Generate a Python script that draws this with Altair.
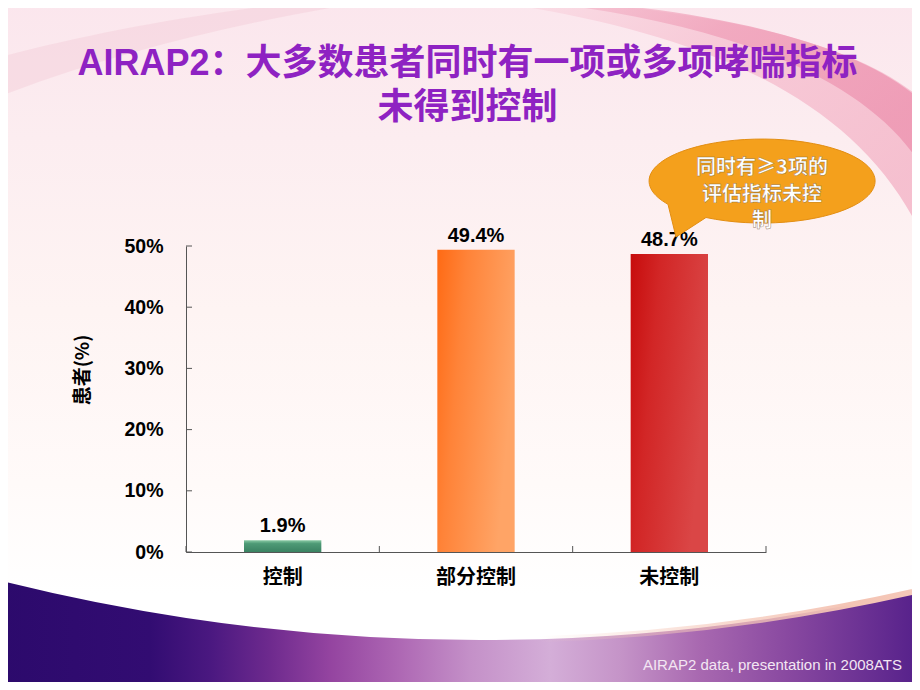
import math
import altair as alt
import pandas as pd

# ---------------- data ----------------
categories = ["控制", "部分控制", "未控制"]
values = [1.9, 49.4, 48.7]
value_labels = ["1.9%", "49.4%", "48.7%"]
y_ticks = [0, 10, 20, 30, 40, 50]
title_lines = ["AIRAP2：大多数患者同时有一项或多项哮喘指标", "未得到控制"]
y_title = "患者(%)"
callout_lines = ["同时有≥3项的", "评估指标未控", "制"]
footnote = "AIRAP2 data, presentation in 2008ATS"

# ---------------- layout ----------------
W, H = 580, 306          # plot area
OX, OY = 186, 246        # plot origin on the page
STEP = W / len(categories)
LAT = "Liberation Sans, Noto Sans CJK SC"
CJK = "Noto Sans CJK SC, Liberation Sans"


def lg(stops, x1=0, y1=0, x2=1, y2=0):
    return alt.LinearGradient(
        gradient="linear", x1=x1, y1=y1, x2=x2, y2=y2,
        stops=[alt.GradientStop(offset=o, color=c) for o, c in stops])


one = pd.DataFrame({"k": [0]})
bars_df = pd.DataFrame({"cat": categories, "val": values, "label": value_labels})
ticks_df = pd.DataFrame({"val": y_ticks})

x_enc = alt.X(
    "cat:N", sort=categories,
    scale=alt.Scale(paddingInner=0.6, paddingOuter=0.3),
    axis=alt.Axis(title=None, labelAngle=0, ticks=False, tickSize=0,
                  labelPadding=15, labelFont=CJK, labelFontSize=20,
                  labelFontWeight="bold", labelColor="#000000",
                  domainColor="#555555", domainWidth=1, zindex=1))
y_enc = alt.Y(
    "val:Q", scale=alt.Scale(domain=[0, 50], nice=False),
    axis=alt.Axis(title=None, values=y_ticks, labelExpr="datum.value + '%'",
                  ticks=False, tickSize=0, labelPadding=23, grid=False,
                  labelFont=LAT, labelFontSize=19.5, labelFontWeight="bold",
                  labelColor="#000000", domainColor="#555555",
                  domainWidth=1, zindex=1))


def page_shape(path, **kw):
    """decorative path drawn in page pixel coordinates"""
    return alt.Chart(one).mark_point(shape=path, size=4, filled=True, **kw).encode(
        x=alt.value(-OX), y=alt.value(-OY))


# background
bg = alt.Chart(one).mark_rect(
    fill=lg([(0, "#FBE6ED"), (0.2, "#FCEDF0"), (0.45, "#FEF4F3"),
             (0.7, "#FFFAF9"), (0.86, "#FFFFFF"), (1, "#FFFFFF")],
            x1=0, y1=0, x2=0, y2=1)).encode(
    x=alt.value(-OX), x2=alt.value(920 - OX),
    y=alt.value(-OY), y2=alt.value(690 - OY))

left_band = page_shape(
    "M -10 60 C 90 32 230 6 400 -8 L 430 -8 C 290 12 140 42 -10 100 Z",
    fill="#F3C9D5", opacity=0.4)

pink_wide = page_shape(
    "M 430 -4 C 650 -1 860 30 932 110 L 932 260 C 880 118 740 42 520 6 Z",
    fill=lg([(0, "#FBE3EA"), (0.5, "#F6C0D0"), (1, "#F3B0C4")], 0, 0, 1, 0.6),
    opacity=0.75)
pink_core = page_shape(
    "M 470 -4 C 660 0 862 32 932 112 L 932 185 C 885 86 745 26 540 2 Z",
    fill=lg([(0, "#F7CCD9"), (0.5, "#EF9CB6"), (1, "#EC8EAC")], 0, 0, 1, 0.5),
    opacity=0.7)

# bottom purple wave (outside a large circle)
CX, CY, R = 480, -1326, 1966


def fx(X):
    return (X + 140.6) / 1241.2


purple = alt.Chart(one).mark_arc(
    theta=math.pi - 0.3, theta2=math.pi + 0.3, radius=R, radius2=2100,
    fill=lg([(0, "#2C0A6C"), (fx(0), "#2C0A6C"), (fx(150), "#320C72"),
             (fx(210), "#4A1880"), (fx(270), "#6E2A8E"), (fx(330), "#9444A0"),
             (fx(400), "#AE68B4"), (fx(470), "#C490C8"), (fx(550), "#D4AED8"),
             (fx(620), "#C594C8"), (fx(700), "#A868B0"), (fx(790), "#8848A0"),
             (fx(920), "#55208A"), (1, "#55208A")])).encode(
    x=alt.value(CX - OX), y=alt.value(CY - OY))

highlight = alt.Chart(one).mark_arc(
    theta=math.pi - 0.26, theta2=math.pi - 0.03, radius=R - 3, radius2=R + 3,
    fill=lg([(0, "rgba(246,205,190,0)"), (0.36, "rgba(245,200,185,0.6)"),
             (0.7, "#F4C4B4"), (1, "#F6CDBE")])).encode(
    x=alt.value(CX - OX), y=alt.value(CY - OY))

# bars
bar_fills = [
    lg([(0, "#86C8A2"), (0.28, "#4E9A76"), (1, "#3A8262")], 0, 0, 0, 1),
    lg([(0, "#FF6A14"), (0.35, "#FF8338"), (1, "#FFA466")], 0, 0, 1, 0.35),
    lg([(0, "#C70C0C"), (0.35, "#D22626"), (1, "#DA4646")], 0, 0, 1, 0.35),
]
bars = [
    alt.Chart(bars_df).transform_filter(alt.datum.cat == c)
    .mark_bar(fill=f).encode(x=x_enc, y=y_enc)
    for c, f in zip(categories, bar_fills)
]

bar_text = alt.Chart(bars_df).mark_text(
    baseline="bottom", dy=-4, font=LAT, fontSize=20, fontWeight="bold",
    color="#000000").encode(x=x_enc, y=y_enc, text="label:N")

y_tick_marks = alt.Chart(ticks_df).mark_rule(color="#555555", strokeWidth=1).encode(
    y=y_enc, x=alt.value(0), x2=alt.value(6))
x_tick_marks = alt.Chart(bars_df).mark_rule(
    color="#555555", strokeWidth=1, xOffset=-STEP / 2).encode(
    x=x_enc, y=alt.value(H - 6), y2=alt.value(H))
x_tick_end = alt.Chart(bars_df).transform_filter(
    alt.datum.cat == categories[-1]).mark_rule(
    color="#555555", strokeWidth=1, xOffset=STEP / 2).encode(
    x=x_enc, y=alt.value(H - 6), y2=alt.value(H))

ytitle = alt.Chart(one).mark_text(
    text=y_title, angle=270, font=CJK, fontSize=19, fontWeight="bold",
    color="#000000", align="center", baseline="middle").encode(
    x=alt.value(83 - OX), y=alt.value(370 - OY))

title = alt.Chart(one).mark_text(
    text=title_lines, font=LAT, fontSize=36, fontWeight="bold",
    color="#8E22C2", align="center", baseline="middle", lineHeight=44).encode(
    x=alt.value(467.5 - OX), y=alt.value(64 - OY))

bubble = page_shape(
    "M 706 217.5 A 113 42 0 1 0 668 204.3 L 676 237 Z",
    fill="#F4A01C", stroke="#E38E12", strokeWidth=1, opacity=1)

callout = [
    alt.Chart(one).mark_text(
        text=line, font=CJK, fontSize=20, fontWeight="bold",
        fill="#FFFFFF", stroke="#7A5A35", strokeWidth=0.45, strokeOpacity=0.8,
        align="center", baseline="middle").encode(
        x=alt.value(762 - OX), y=alt.value(168 + 26.5 * i - OY))
    for i, line in enumerate(callout_lines)
]

foot = alt.Chart(one).mark_text(
    text=footnote, font="Liberation Sans", fontSize=15, color="#F3E6F3",
    align="right", baseline="middle").encode(
    x=alt.value(902 - OX), y=alt.value(665 - OY))

chart = alt.layer(
    bg, left_band, pink_wide, pink_core, purple, highlight,
    *bars, bar_text, y_tick_marks, x_tick_marks, x_tick_end,
    ytitle, title, bubble, *callout, foot,
).properties(
    width=W, height=H,
    padding={"left": OX - 8, "top": OY - 8,
             "right": 904 - (OX - 8) - W, "bottom": 674 - (OY - 8) - H},
    autosize=alt.AutoSizeParams(type="none"),
).configure_view(stroke=None)

chart.save("out.html", embed_options={"renderer": "svg", "actions": False})
